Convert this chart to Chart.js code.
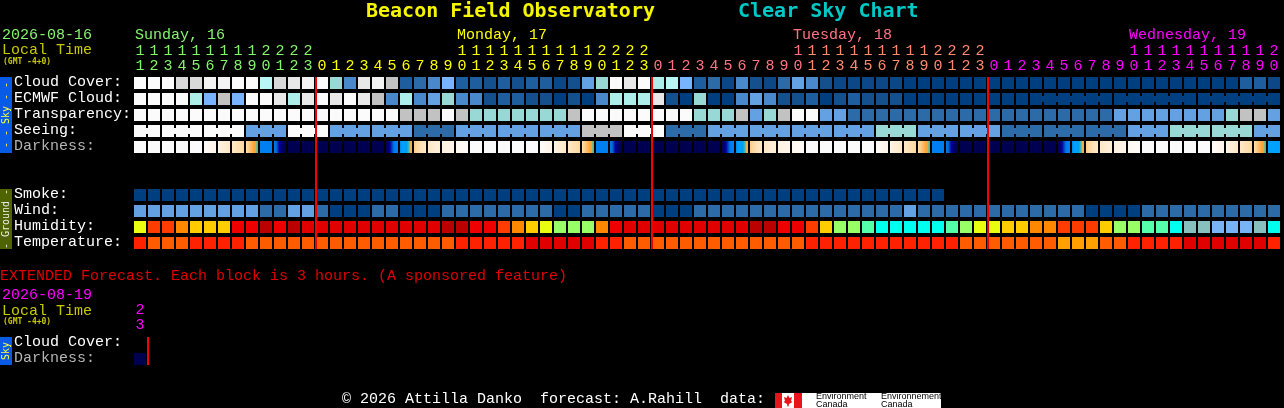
<!DOCTYPE html>
<html>
<head>
<meta charset="utf-8">
<title>Beacon Field Observatory Clear Sky Chart</title>
<script src="https://cdn.jsdelivr.net/npm/chart.js@4/dist/chart.umd.min.js"></script>
<style>
html,body{margin:0;padding:0;background:#000;overflow:hidden}
canvas{display:block}
</style>
</head>
<body>
<canvas id="c" width="1284" height="408"></canvas>
<script>
const hours = [11,12,13,14,15,16,17,18,19,20,21,22,23,0,1,2,3,4,5,6,7,8,9,10,11,12,13,14,15,16,17,18,19,20,21,22,23,0,1,2,3,4,5,6,7,8,9,10,11,12,13,14,15,16,17,18,19,20,21,22,23,0,1,2,3,4,5,6,7,8,9,10,11,12,13,14,15,16,17,18,19,20];
const midnightCols = [13,37,61];

const skyPalette = ['#003f7f','#0c4888','#14508e','#1e5e9e','#2c6aa8','#4a88cc','#63a1e3','#77b3ff','#98d8d5','#aeeeea','#b9f5f5','#c2c2c2','#d8d8d8','#e8e8e8','#f3f3f3','#fbfbfb'];
const groundPalette = ['#bb0000','#e00000','#ee0000','#ff2200','#ff3c00','#ff5c00','#ff8800','#ffa000','#ffcc00','#eaff10','#99ff66','#55ffaa','#00ffee','#88c0c0','#77b3f5'];
const darknessShades = [
 ['#fbfbfb'],
 ['#fffcf8','#fff4e6'],
 ['#fff3e2','#ffe8c8'],
 ['#ffe8c8','#ffd8a0'],
 ['#ffdca8','#ffd8a0','#ffd090','#ffc880','#ffc070','#ffb860','#ffb050','#ffa840','#ffa030','#e0b030','#40c0c0','#00c8e8'],
 ['#0080f0'],
 ['#0078e8','#0070e0','#0060d0','#0030b0','#0000a0','#000088','#000070','#000060','#000058','#000050'],
 ['#000050'],
 ['#000050','#000070','#000098','#0040c0','#0078e8','#0080f0','#0080f0'],
 ['#0088f0','#0098f8','#00a0ff','#00a0ff','#00a0f8','#00a0f0','#20b0d8','#60b8a0','#ffb040','#ffa030'],
 ['#ffcc88','#ffe0b4','#ffe8c8'],
 ['#ffe8c8','#fff0dc'],
 ['#fff2e0','#fff6ea'],
 ['#fff8f0','#fffcf8'],
 ['#00a0ff']
];

const cloudCover = [15,15,15,12,12,14,14,15,15,10, 12,13,14,15,8,5,13,14,11,3, 4,5,7,3,3,2,3,2,3,3, 1,2,6,8,15,13,15,9,10,7, 3,4,1,5,2,1,4,6,5,2, 1,1,1,1,1,0,0,0,0,0, 0,0,0,0,0,0,0,0,0,0, 0,0,0,0,0,0,0,0,0,3, 3,1];
const ecmwfCloud = [15,15,15,15,9,7,11,7,15,15, 13,9,13,15,13,15,13,11,5,9, 5,6,8,5,5,2,3,3,2,2, 0,2,0,5,9,9,9,13,2,0, 8,0,0,5,6,5,2,2,3,0, 2,3,2,2,2,0,0,0,0,0, 0,0,0,0,0,0,0,0,0,0, 0,0,0,0,0,0,0,0,0,0, 0,0];
const transparency = [15,15,15,15,15,15,15,15,15,15, 15,15,15,15,15,15,15,15,15,11, 11,11,15,11,8,8,8,8,8,8, 8,11,15,15,15,15,15,15,15,15, 8,8,8,11,6,8,11,15,15,6, 6,4,4,4,4,4,4,4,4,4, 4,4,4,4,4,4,4,4,4,4, 6,6,6,6,6,6,6,6,8,11, 11,6];
const seeing = [15,15,15,15,15,15,15,15,6,6, 6,15,15,15,6,6,6,6,6,6, 4,4,4,6,6,6,6,6,6,6, 6,6,11,11,11,15,15,15,4,4, 4,6,6,6,6,6,6,6,6,6, 6,6,6,8,8,8,6,6,6,6, 6,6,4,4,4,4,4,4,4,4, 4,6,6,6,8,8,8,8,8,8, 6,6];
const darkness = [0,0,0,0,0,1,2,3,4,5, 6,7,7,7,7,7,7,7,8,9, 10,11,12,13,0,0,0,0,0,1, 2,3,4,5,6,7,7,7,7,7, 7,7,8,9,10,11,12,13,0,0, 0,0,0,1,2,3,4,5,6,7, 7,7,7,7,7,7,8,9,10,11, 12,13,0,0,0,0,0,1,2,3, 4,14];
const smoke = [0,0,0,0,0,0,0,0,0,0, 0,0,0,0,0,0,0,0,0,0, 0,0,0,0,0,0,0,0,0,0, 0,0,0,0,0,0,0,0,0,0, 0,0,0,0,0,0,0,0,0,0, 0,0,0,0,0,0,0,0];
const wind = [6,6,6,6,6,6,6,6,6,4, 4,6,6,4,0,0,0,4,4,0, 0,0,4,4,4,4,4,4,4,4, 0,0,4,4,4,4,4,0,0,0, 4,4,4,4,4,4,4,4,4,4, 4,4,4,4,4,6,4,4,4,4, 4,4,4,4,4,4,4,4,0,0, 0,0,4,4,4,4,4,4,4,4, 4,4];
const humidity = [9,4,4,6,8,8,8,2,2,0, 2,0,1,1,1,1,1,1,1,1, 1,1,0,0,2,2,4,6,8,9, 10,10,10,6,2,1,1,1,1,1, 1,1,1,1,0,0,2,2,4,8, 10,10,11,12,12,12,12,12,11,10, 9,9,8,8,6,6,4,4,4,8, 10,10,11,11,12,13,13,14,14,14, 13,12];
const temperature = [3,5,5,5,3,3,3,3,5,5, 5,5,5,5,5,5,5,5,5,5, 5,5,5,3,3,3,3,3,1,1, 1,1,1,3,3,5,5,5,5,5, 5,5,5,5,5,5,5,5,3,3, 3,3,3,3,3,3,3,3,3,5, 5,5,5,5,5,5,7,7,7,5, 5,3,3,3,3,1,1,1,1,1, 1,3];
const extendedDarkness = [7];

const seeingSpans = [[0,1],[2,4],[5,7],[8,10],[11,13],[14,16],[17,19],[20,22],[23,25],[26,28],[29,31],[32,34],[35,37],[38,40],[41,43],[44,46],[47,49],[50,52],[53,55],[56,58],[59,61],[62,64],[65,67],[68,70],[71,73],[74,76],[77,79],[80,81]];
const ecmwfSpans = [[64,69],[70,75],[76,81]];

const rowLabels = ['Cloud Cover:','ECMWF Cloud:','Transparency:','Seeing:','Darkness:','Smoke:','Wind:','Humidity:','Temperature:','Cloud Cover:','Darkness:'];
const rowSlots = [0,1,2,3,4,7,8,9,10,16.25,17.25];
const dayLabels = ['Sunday, 16','Monday, 17','Tuesday, 18','Wednesday, 19'];
const dayCols = [0,23,47,71];
const dayColors = ['#86f56e','#ffff00','#ff7480','#ff00ff'];

const MONO = '"Liberation Mono", monospace';
const BOLD = '"DejaVu Sans Mono", monospace';
const columnColor = c => c < 13 ? '#86f56e' : c < 37 ? '#ffff00' : c < 48 ? '#ff7480' : c < 61 ? '#ff8a6e' : '#ff00ff';

function cellRow(values, slot, paint) {
  return {
    type: 'bar',
    order: 2,
    data: values.map((v, i) => ({x: i, y: [slot + 0.125, slot + 0.875]})),
    backgroundColor: values.map(v => paint[v]),
    barPercentage: 12 / 7, categoryPercentage: 1, grouped: false, inflateAmount: 0, borderWidth: 0
  };
}
function linkRow(values, spans, slot, paint) {
  const pts = [], cols = [];
  spans.forEach(s => { for (let c = s[0]; c < s[1]; c++) { pts.push({x: c + 0.5, y: [slot + 0.3125, slot + 0.6875]}); cols.push(paint[values[c]]); } });
  return {type: 'bar', order: 3, data: pts, backgroundColor: cols, barPercentage: 4 / 7, categoryPercentage: 1, grouped: false, inflateAmount: 0, borderWidth: 0};
}
function darkRow(values, slot) {
  return {
    type: 'bar',
    order: 2,
    data: values.map((v, i) => ({x: i, y: [slot + 0.125, slot + 0.875]})),
    backgroundColor: ctx => {
      const stops = darknessShades[values[ctx.dataIndex]];
      if (!stops) return '#000';
      if (stops.length === 1) return stops[0];
      const x = ctx.chart.scales.x;
      if (!x || !isFinite(x.getPixelForValue(ctx.dataIndex))) return stops[0];
      const px = x.getPixelForValue(ctx.dataIndex) - 6;
      const g = ctx.chart.ctx.createLinearGradient(px, 0, px + 12, 0);
      stops.forEach((s, k) => g.addColorStop(k / (stops.length - 1), s));
      return g;
    },
    barPercentage: 12 / 7, categoryPercentage: 1, grouped: false, inflateAmount: 0, borderWidth: 0
  };
}
function midnightLine(cols, from, to) {
  const pts = [];
  cols.forEach(c => { pts.push({x: c - 0.5 + 1 / 14, y: from}, {x: c - 0.5 + 1 / 14, y: to}, {x: c, y: null}); });
  return {type: 'line', order: 0, data: pts, borderColor: '#f40000', borderWidth: 2, pointRadius: 0, spanGaps: false, fill: false, tension: 0};
}

const textPlugin = {
  id: 'chartText',
  afterDraw(chart) {
    const ctx = chart.ctx, x = chart.scales.x, y = chart.scales.y;
    const put = (s, px, py, color, font, align) => {
      ctx.font = font; ctx.fillStyle = color; ctx.textAlign = align || 'left'; ctx.textBaseline = 'middle';
      ctx.fillText(s, px, py);
    };
    const f15 = '15px ' + MONO, f8 = 'bold 8px ' + BOLD, f20 = 'bold 20px ' + BOLD;
    ctx.save();
    put('Beacon Field Observatory', 366, 12, '#f5f500', f20);
    put('Clear Sky Chart', 738, 12, '#00c8c8', f20);
    put('2026-08-16', 2, 35.5, '#86f56e', f15);
    put('Local Time', 2, 50.5, '#c8c800', f15);
    put('(GMT -4+0)', 3, 62, '#c8c800', f8);
    dayLabels.forEach((d, i) => put(d, x.getPixelForValue(dayCols[i]) - 5, 35.5, dayColors[i], f15));

    put('EXTENDED Forecast. Each block is 3 hours. (A sponsored feature)', 0, 276.5, '#e00000', f15);
    put('2026-08-19', 2, 295.5, '#ff00ff', f15);
    put('Local Time', 2, 311.5, '#c8c800', f15);
    put('(GMT -4+0)', 3, 322, '#c8c800', f8);
    put('2', x.getPixelForValue(0), 310.5, '#ff00ff', f15, 'center');
    put('3', x.getPixelForValue(0), 325.5, '#ff00ff', f15, 'center');

    const side = (from, to, bg, fg, label) => {
      const t = y.getPixelForValue(from), b = y.getPixelForValue(to);
      ctx.fillStyle = bg; ctx.fillRect(0, t, 12, b - t);
      ctx.save();
      ctx.translate(6, (t + b) / 2); ctx.rotate(-Math.PI / 2);
      put(label, 0, 0, fg, '10px ' + BOLD, 'center');
      ctx.restore();
    };
    side(0.125, 4.875, '#0a5ae8', '#ffff40', '- - Sky - -');
    side(7.125, 10.875, '#4f6400', '#eeeeee', '- Ground -');
    side(16.375, 18.125, '#0a5ae8', '#ffff40', 'Sky');

    put('\u00a9 2026 Attilla Danko  forecast: A.Rahill  data:', 342, 399.5, '#ffffff', f15);
    ctx.fillStyle = '#e8141c'; ctx.fillRect(775, 393, 7, 15); ctx.fillRect(794, 393, 8, 15);
    ctx.fillStyle = '#ffffff'; ctx.fillRect(782, 393, 12, 15); ctx.fillRect(802, 393, 139, 15);
    ctx.fillStyle = '#e8141c';
    ctx.beginPath();
    [[788,395],[789.5,398],[792,397],[791,401],[792.5,402],[789,404],[788.5,406.5],[787.5,406.5],[787,404],[783.5,402],[785,401],[784,397],[786.5,398]].forEach((p, i) => i ? ctx.lineTo(p[0], p[1]) : ctx.moveTo(p[0], p[1]));
    ctx.closePath(); ctx.fill();
    ctx.save();
    ctx.beginPath(); ctx.rect(802, 393, 139, 15); ctx.clip();
    const f9 = '9px "Liberation Sans", sans-serif';
    put('Environment', 816, 397, '#000', f9);
    put('Canada', 816, 404.5, '#000', f9);
    put('Environnement', 881, 397, '#000', f9);
    put('Canada', 881, 404.5, '#000', f9);
    ctx.restore();
    ctx.restore();
  }
};

new Chart(document.getElementById('c'), {
  type: 'bar',
  data: {
    datasets: [
      cellRow(cloudCover, 0, skyPalette),
      cellRow(ecmwfCloud, 1, skyPalette),
      linkRow(ecmwfCloud, ecmwfSpans, 1, skyPalette),
      cellRow(transparency, 2, skyPalette),
      cellRow(seeing, 3, skyPalette),
      linkRow(seeing, seeingSpans, 3, skyPalette),
      darkRow(darkness, 4),
      cellRow(smoke, 7, skyPalette),
      cellRow(wind, 8, skyPalette),
      cellRow(humidity, 9, groundPalette),
      cellRow(temperature, 10, groundPalette),
      darkRow(extendedDarkness, 17.25),
      midnightLine(midnightCols, 0.125, 10.875),
      midnightLine([1], 16.375, 18.125)
    ]
  },
  options: {
    responsive: false,
    animation: false,
    devicePixelRatio: 1,
    events: [],
    layout: {padding: {left: 14, right: 3, top: 38, bottom: 41}},
    plugins: {legend: {display: false}, tooltip: {enabled: false}, title: {display: false}},
    scales: {
      x: {
        type: 'linear', position: 'top', min: -0.5, max: 81.5, offset: false,
        grid: {display: false, drawTicks: false}, border: {display: false},
        afterBuildTicks: s => { s.ticks = hours.map((h, i) => ({value: i})); },
        afterFit: s => { s.height = 37; },
        ticks: {
          autoSkip: false, maxRotation: 0, minRotation: 0, padding: 1,
          font: {family: MONO, size: 15, lineHeight: 1},
          color: c => columnColor(c.tick ? c.tick.value : 0),
          callback: (v) => { const h = hours[v]; return [h >= 10 ? String(Math.floor(h / 10)) : ' ', String(h % 10)]; }
        }
      },
      y: {
        type: 'linear', reverse: true, min: 0, max: 18.25,
        grid: {display: false, drawTicks: false}, border: {display: false},
        afterBuildTicks: s => { s.ticks = rowSlots.map(v => ({value: v + 0.41})); },
        afterFit: s => { s.width = 119; },
        ticks: {
          autoSkip: false, crossAlign: 'far', padding: 0,
          font: {family: MONO, size: 15},
          color: c => /Darkness/.test(rowLabels[c.index]) ? '#b4b4b4' : '#ffffff',
          callback: (v, i) => rowLabels[i]
        }
      }
    }
  },
  plugins: [textPlugin]
});
</script>
</body>
</html>
